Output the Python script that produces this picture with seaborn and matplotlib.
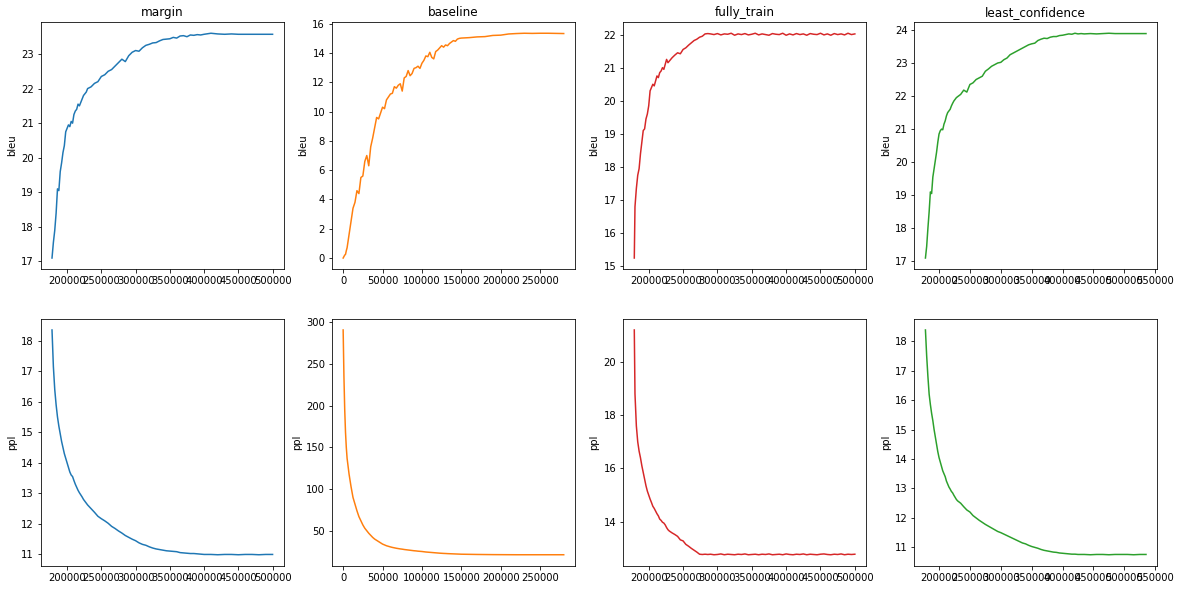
import matplotlib
matplotlib.use("Agg")
import matplotlib.pyplot as plt
import seaborn as sns
import numpy as np

# ---- data ----
titles = ['margin', 'baseline', 'fully_train', 'least_confidence']
colors = ['tab:blue', 'tab:orange', 'tab:red', 'tab:green']

margin_steps = np.r_[np.arange(178000, 230000, 2000),
                     np.arange(230000, 400000, 5000),
                     np.arange(400000, 505000, 10000)]
margin_bleu = [17.1, 17.55, 17.9, 18.4, 19.1, 19.05, 19.6, 19.85, 20.15, 20.35,
               20.75, 20.85, 20.95, 20.9, 21.05, 21.0, 21.25, 21.35, 21.4, 21.55,
               21.5, 21.6, 21.7, 21.8, 21.85, 21.9,
               22.0, 22.05, 22.15, 22.2, 22.35, 22.4, 22.5, 22.55, 22.65, 22.75,
               22.85, 22.78, 22.95, 23.05, 23.1, 23.08, 23.18, 23.25, 23.28, 23.32,
               23.33, 23.38, 23.42, 23.43, 23.44, 23.48, 23.46, 23.52, 23.53, 23.5,
               23.55, 23.54, 23.56, 23.55,
               23.57, 23.6, 23.58, 23.57, 23.58, 23.57, 23.57, 23.57, 23.57, 23.57, 23.57]
margin_ppl = [18.35, 17.15, 16.4, 15.9, 15.5, 15.2, 14.95, 14.7, 14.5, 14.3,
              14.15, 14.0, 13.85, 13.7, 13.6, 13.55, 13.42, 13.3, 13.2, 13.1,
              13.02, 12.95, 12.88, 12.8, 12.74, 12.68,
              12.62, 12.5, 12.38, 12.25, 12.17, 12.1, 12.02, 11.92, 11.85,
              11.77, 11.7, 11.62, 11.56, 11.5, 11.45, 11.38, 11.33, 11.3, 11.25,
              11.21, 11.18, 11.16, 11.14, 11.12, 11.11, 11.1, 11.09, 11.06, 11.05,
              11.04, 11.03, 11.03, 11.02, 11.01,
              11.0, 11.0, 10.99, 11.0, 11.0, 10.99, 11.0, 11.0, 10.99, 11.0, 11.0]

baseline_steps = np.r_[[0, 1000, 2000, 3000, 4000],
                       np.arange(5000, 150000, 2500),
                       np.arange(150000, 290000, 10000)]
baseline_bleu = [0.0, 0.1, 0.2, 0.25, 0.5,
                 0.7, 1.6, 2.5, 3.4, 3.8, 4.6, 4.4, 5.5, 5.6, 6.6, 7.0, 6.3, 7.6, 8.2,
                 8.9, 9.6, 9.5, 9.9,
                 10.3, 10.2, 10.8, 11.0, 11.2, 11.25, 11.7, 11.6, 11.8, 11.9, 11.4,
                 12.3, 12.4, 12.8, 12.45, 12.6, 12.95, 13.0, 13.1,
                 12.95, 13.3, 13.5, 13.8, 13.75, 14.05, 13.7, 13.6, 14.1, 14.2, 14.35,
                 14.5, 14.4, 14.55, 14.5, 14.65, 14.75, 14.85, 14.8, 14.95, 15.0,
                 15.02, 15.05, 15.1, 15.12, 15.2, 15.22, 15.3, 15.33, 15.35, 15.34,
                 15.35, 15.35, 15.34, 15.33]
baseline_ppl = [291, 235, 195, 168, 150,
                137, 118, 103, 90, 82, 74, 67, 62, 57, 53, 50, 47, 44.5, 42, 40,
                38.5, 37, 35.5,
                34, 33, 32, 31.3, 30.6, 30, 29.5, 29, 28.6, 28.2, 27.9, 27.5, 27.2,
                26.9, 26.6, 26.3, 26.0, 25.8, 25.5,
                25.3, 25.1, 24.8, 24.5, 24.3, 24.1, 23.9, 23.7, 23.5, 23.3, 23.1,
                22.95, 22.8, 22.7, 22.55, 22.45, 22.35, 22.25, 22.15, 22.05, 21.95,
                21.85, 21.7, 21.55, 21.45, 21.35, 21.3, 21.25, 21.2, 21.2, 21.2,
                21.2, 21.2, 21.2, 21.2]

fully_steps = np.r_[[179000, 180000],
                    np.arange(182000, 230000, 2000),
                    np.arange(230000, 290000, 4000),
                    np.arange(290000, 505000, 5000)]
fully_bleu = [15.25, 16.8,
              17.35, 17.75, 17.95, 18.4, 18.75, 19.1, 19.15, 19.45, 19.6, 19.85,
              20.3, 20.4, 20.5, 20.45, 20.6, 20.75, 20.7, 20.85, 20.9, 21.0,
              20.95, 21.1, 21.25, 21.15,
              21.2, 21.3, 21.38, 21.45, 21.42, 21.55, 21.6, 21.68, 21.75, 21.82,
              21.86, 21.92, 21.95, 22.02, 22.03,
              22.02, 22.0, 22.03, 21.99, 22.02, 22.01, 22.04, 21.98, 22.02, 22.0,
              22.03, 21.99, 22.01, 22.04, 21.99, 22.02, 22.0, 21.98, 22.03, 22.01,
              22.0, 22.04, 21.98, 22.02, 21.99, 22.03, 22.0, 22.02, 21.98, 22.03,
              22.01, 22.0, 22.04, 21.99, 22.02, 21.98, 22.03, 22.0, 22.02, 21.99,
              22.04, 22.0, 22.02]
fully_ppl = [21.2, 18.8,
             17.6, 17.0, 16.65, 16.4, 16.1, 15.85, 15.6, 15.35, 15.15, 15.0,
             14.85, 14.72, 14.58, 14.5, 14.4, 14.3, 14.22, 14.1, 14.05, 13.98,
             13.95, 13.88, 13.78, 13.7,
             13.65, 13.58, 13.52, 13.45, 13.32, 13.28, 13.15, 13.08, 13.0, 12.93,
             12.86, 12.78, 12.77, 12.78, 12.77,
             12.78, 12.76, 12.77, 12.79, 12.76, 12.78, 12.77, 12.76, 12.78, 12.77,
             12.79, 12.76, 12.77, 12.78, 12.76, 12.78, 12.77, 12.79, 12.76, 12.77,
             12.78, 12.76, 12.79, 12.77, 12.76, 12.78, 12.77, 12.79, 12.76, 12.78,
             12.77, 12.76, 12.78, 12.79, 12.77, 12.76, 12.78, 12.77, 12.79, 12.76,
             12.78, 12.77, 12.78]

lc_steps = np.r_[np.arange(178000, 230000, 2000),
                 np.arange(230000, 435000, 5000),
                 np.arange(435000, 540000, 10000)]
lc_bleu = [17.1, 17.45, 18.0, 18.5, 19.1, 19.05, 19.55, 19.8, 20.05, 20.3,
           20.6, 20.85, 20.95, 21.0, 20.98, 21.15, 21.25, 21.4, 21.5, 21.55,
           21.6, 21.7, 21.78, 21.85, 21.9, 21.95,
           21.98, 22.05, 22.18, 22.12, 22.35, 22.4, 22.5, 22.55, 22.6, 22.75,
           22.82, 22.9, 22.95, 23.0, 23.02, 23.1, 23.15, 23.25, 23.3, 23.35,
           23.4, 23.45, 23.5, 23.55, 23.58, 23.6, 23.68, 23.72, 23.75, 23.74,
           23.78, 23.8, 23.8, 23.83, 23.84, 23.86, 23.88, 23.87, 23.9, 23.88,
           23.89,
           23.88, 23.89, 23.88, 23.89, 23.9, 23.89, 23.89, 23.89, 23.89, 23.89, 23.89]
lc_ppl = [18.38, 17.5, 16.8, 16.2, 15.85, 15.55, 15.3, 15.0, 14.75, 14.5,
          14.25, 14.05, 13.9, 13.75, 13.6, 13.5, 13.4, 13.25, 13.15, 13.05,
          12.98, 12.9, 12.85, 12.77, 12.7, 12.63,
          12.58, 12.5, 12.38, 12.27, 12.2, 12.08, 12.0, 11.92, 11.85, 11.78,
          11.72, 11.66, 11.6, 11.54, 11.5, 11.45, 11.4, 11.35, 11.3, 11.25,
          11.2, 11.15, 11.12, 11.07, 11.03, 11.0, 10.97, 10.93, 10.9, 10.88,
          10.86, 10.84, 10.83, 10.81, 10.8, 10.79, 10.78, 10.77, 10.77, 10.76,
          10.76,
          10.76, 10.75, 10.76, 10.76, 10.75, 10.76, 10.76, 10.76, 10.75, 10.76, 10.76]

steps = [margin_steps, baseline_steps, fully_steps, lc_steps]
bleu = [margin_bleu, baseline_bleu, fully_bleu, lc_bleu]
ppl = [margin_ppl, baseline_ppl, fully_ppl, lc_ppl]

# ---- plot ----
fig, axes = plt.subplots(2, 4, figsize=(1181 / 72, 590 / 72), dpi=72)
fig.subplots_adjust(left=0.0347, right=0.9797, top=0.9627, bottom=0.0407,
                    wspace=0.2, hspace=0.2)

for i in range(4):
    ax = axes[0, i]
    sns.lineplot(x=steps[i], y=bleu[i], ax=ax, color=colors[i], estimator=None)
    ax.set_title(titles[i])
    ax.set_ylabel('bleu')

    ax = axes[1, i]
    sns.lineplot(x=steps[i], y=ppl[i], ax=ax, color=colors[i], estimator=None)
    ax.set_ylabel('ppl')

fig.savefig('out.png', dpi=72)
